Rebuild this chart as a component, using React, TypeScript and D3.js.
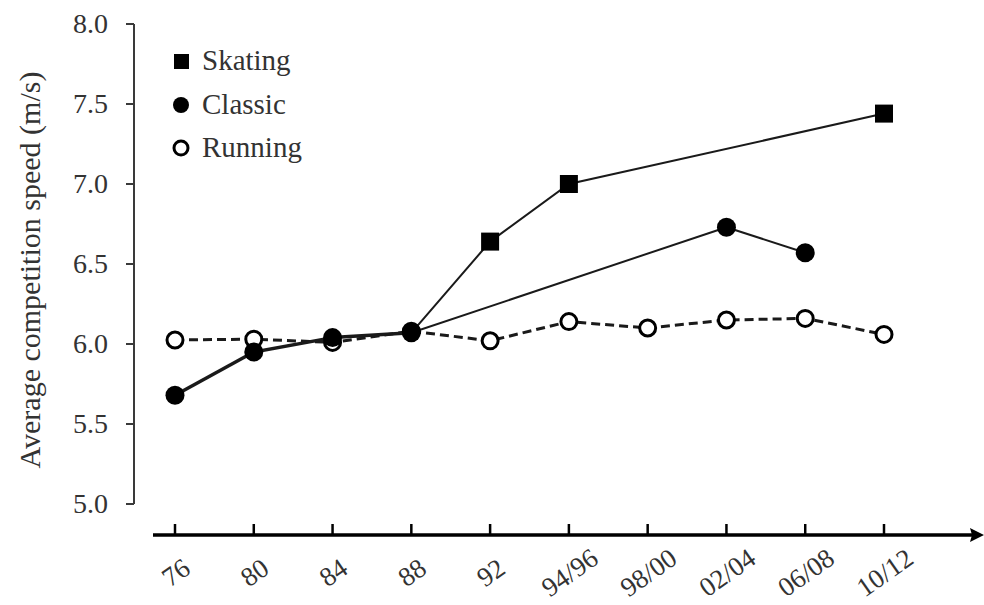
import React from 'react';
import * as d3 from 'd3';

const years = ['76', '80', '84', '88', '92', '94/96', '98/00', '02/04', '06/08', '10/12'];
const skating = [null, null, null, 6.07, 6.64, 7.0, null, null, null, 7.44];
const classic = [5.68, 5.95, 6.04, 6.07, null, null, null, 6.73, 6.57, null];
const running = [6.025, 6.03, 6.01, 6.08, 6.02, 6.14, 6.1, 6.15, 6.16, 6.06];
const yTicks = [5.0, 5.5, 6.0, 6.5, 7.0, 7.5, 8.0];

const FONT = '"Liberation Serif", "Times New Roman", serif';
const INK = '#1a1a1a';
const AXIS = '#3a3a3a';

type Pt = { x: number; y: number; i: number };

export default function App() {
  const width = 984;
  const height = 605;

  const x = d3.scalePoint<string>().domain(years).range([175, 884]);
  const y = d3.scaleLinear().domain([5, 8]).range([504, 24]);

  const pts = (vals: (number | null)[]): Pt[] =>
    vals
      .map((v, i) => (v == null ? null : { x: x(years[i]) as number, y: y(v), i }))
      .filter((p): p is Pt => p !== null);

  const line = d3.line<Pt>().x(d => d.x).y(d => d.y);

  const runPts = pts(running);
  const classicPts = pts(classic);
  const skatePts = pts(skating);

  // classic segments: 76-88 drawn heavier (shared with skating before it split)
  const classicSegs = d3.pairs(classicPts).map(([a, b]) => ({ a, b, heavy: b.i <= 3 }));

  return (
    <svg width={width} height={height} style={{ position: 'absolute', left: 0, top: 0, background: '#fff' }}>
      <g fontFamily={FONT}>
        {/* y axis */}
        <line x1={134} x2={134} y1={y(8)} y2={y(5)} stroke={AXIS} strokeWidth={2} />
        {yTicks.map(t => (
          <g key={t} transform={`translate(0,${y(t)})`}>
            <line x1={126} x2={134} stroke={AXIS} strokeWidth={2} />
            <text x={108} y={9} textAnchor="end" fontSize={28} fill="#333">{t.toFixed(1)}</text>
          </g>
        ))}
        <text
          transform={`translate(40,${(y(5) + y(8)) / 2 + 6}) rotate(-90)`}
          textAnchor="middle"
          fontSize={30}
          fill="#333"
        >
          Average  competition speed (m/s)
        </text>

        {/* x axis with arrow */}
        <line x1={153} x2={975} y1={535} y2={535} stroke="#000" strokeWidth={3.5} />
        <path d="M984,535 L970,528 L972,535 L970,542 Z" fill="#000" />
        {years.map(yr => (
          <g key={yr} transform={`translate(${x(yr)},535)`}>
            <line y1={0} y2={-11} stroke="#000" strokeWidth={2.5} />
            <text
              transform="translate(6,45) rotate(-35)"
              textAnchor="middle"
              fontSize={27}
              fill="#333"
            >
              {yr}
            </text>
          </g>
        ))}

        {/* running (dashed) */}
        <path d={line(runPts) || ''} fill="none" stroke={INK} strokeWidth={3} strokeDasharray="9,5" />

        {/* classic */}
        {classicSegs.map((s, k) => (
          <line key={k} x1={s.a.x} y1={s.a.y} x2={s.b.x} y2={s.b.y}
            stroke={INK} strokeWidth={s.heavy ? 3.5 : 2} />
        ))}

        {/* skating */}
        <path d={line(skatePts) || ''} fill="none" stroke={INK} strokeWidth={2} />

        {runPts.map(p => (
          <circle key={'r' + p.i} cx={p.x} cy={p.y} r={8} fill="#fff" stroke="#000" strokeWidth={3} />
        ))}
        {classicPts.map(p => (
          <circle key={'c' + p.i} cx={p.x} cy={p.y} r={9.5} fill="#000" />
        ))}
        {skatePts.filter(p => p.i > 3).map(p => (
          <rect key={'s' + p.i} x={p.x - 9} y={p.y - 9} width={18} height={18} fill="#000" />
        ))}

        {/* legend */}
        <rect x={174} y={54} width={15} height={15} fill="#000" />
        <text x={202} y={70} fontSize={29} fill="#333">Skating</text>
        <circle cx={181} cy={105} r={8} fill="#000" />
        <text x={202} y={114} fontSize={29} fill="#333">Classic</text>
        <circle cx={181} cy={148} r={7} fill="#fff" stroke="#000" strokeWidth={3} />
        <text x={202} y={157} fontSize={29} fill="#333">Running</text>
      </g>
    </svg>
  );
}
